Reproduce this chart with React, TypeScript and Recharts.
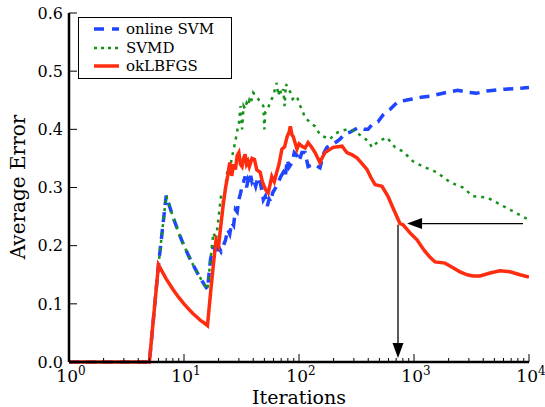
import React from "react";
import { LineChart, Line, XAxis, YAxis, ReferenceLine, Legend } from "recharts";

const FONT = "'DejaVu Serif', 'Liberation Serif', serif";

// online SVM (blue dashed)
const svmIters = [
  1, 5, 6, 7, 8, 9, 10, 11, 12, 13, 14, 15, 16, 17, 18, 19, 20, 21, 22, 23, 24, 25, 26, 27, 28, 29, 30,
  31, 32, 33, 34, 35, 36, 37, 38, 39, 40, 42, 44, 46, 48, 49, 51, 53, 55, 57, 59, 62, 66, 70, 73, 76,
  79, 82, 87, 91, 96, 100, 106, 113, 120, 135, 152, 165, 175, 200, 227, 250, 278, 326, 370, 398, 440,
  486, 540, 618, 726, 850, 961, 1150, 1378, 1977, 2400, 2891, 3500, 4315, 6185, 8870, 10000,
];
const svmErr = [
  0, 0, 0.167, 0.286, 0.25, 0.222, 0.2, 0.182, 0.167, 0.154, 0.143, 0.133, 0.125, 0.176, 0.2, 0.184,
  0.198, 0.19, 0.2, 0.21, 0.228, 0.22, 0.24, 0.235, 0.262, 0.258, 0.279, 0.29, 0.302, 0.31, 0.319, 0.3,
  0.312, 0.305, 0.32, 0.31, 0.315, 0.302, 0.318, 0.309, 0.29, 0.279, 0.285, 0.268, 0.28, 0.275, 0.291,
  0.298, 0.309, 0.32, 0.326, 0.318, 0.348, 0.335, 0.343, 0.36, 0.355, 0.345, 0.36, 0.36, 0.336, 0.34,
  0.334, 0.36, 0.369, 0.375, 0.383, 0.392, 0.395, 0.403, 0.4, 0.4, 0.41, 0.413, 0.425, 0.434, 0.448,
  0.45, 0.452, 0.455, 0.457, 0.464, 0.467, 0.464, 0.462, 0.466, 0.469, 0.471, 0.472,
];

// SVMD (green dotted)
const svmdIters = [
  1, 5, 6, 7, 8, 9, 10, 11, 12, 13, 14, 15, 16, 17, 18, 19, 20, 21, 22, 23, 24, 25, 26, 27, 28, 29, 30,
  31, 32, 33, 34, 35, 36, 37, 38, 40, 42, 43, 45, 47, 49, 50, 51, 53, 56, 58, 61, 64, 66, 68, 70, 73, 75,
  77, 80, 84, 88, 92, 96, 100, 106, 113, 125, 138, 152, 162, 186, 200, 218, 261, 307, 360, 400, 431, 486,
  582, 684, 802, 980, 1197, 1585, 2056, 2667, 3258, 4315, 5598, 7261, 9226, 10000,
];
const svmdErr = [
  0, 0, 0.167, 0.286, 0.25, 0.222, 0.2, 0.182, 0.167, 0.154, 0.143, 0.133, 0.125, 0.176, 0.222, 0.21,
  0.25, 0.286, 0.273, 0.304, 0.333, 0.33, 0.35, 0.365, 0.38, 0.397, 0.41, 0.44, 0.4, 0.44, 0.435, 0.445,
  0.44, 0.45, 0.445, 0.463, 0.458, 0.455, 0.45, 0.446, 0.44, 0.4, 0.43, 0.434, 0.445, 0.452, 0.465, 0.48,
  0.458, 0.47, 0.46, 0.469, 0.44, 0.478, 0.47, 0.464, 0.452, 0.455, 0.457, 0.445, 0.434, 0.42, 0.412,
  0.405, 0.391, 0.388, 0.383, 0.39, 0.395, 0.4, 0.397, 0.386, 0.38, 0.369, 0.379, 0.386, 0.369, 0.362,
  0.345, 0.336, 0.326, 0.309, 0.3, 0.285, 0.283, 0.271, 0.259, 0.248, 0.244,
];

// okLBFGS (red solid)
const lbfgsIters = [
  1, 5, 6, 7, 8, 9, 10, 11, 12, 13, 14, 15, 16, 17, 18, 19, 20, 21, 22, 23, 24, 25, 26, 27, 28, 29, 30,
  31, 32, 33, 34, 35, 36, 37, 39, 41, 43, 46, 48, 51, 54, 56, 58, 61, 64, 67, 71, 75, 79, 82, 84, 87, 89,
  93, 96, 100, 106, 113, 120, 128, 138, 152, 160, 168, 198, 237, 250, 261, 290, 319, 350, 390, 420, 458,
  527, 594, 640, 684, 755, 802, 870, 923, 1062, 1150, 1247, 1380, 1523, 1862, 2183, 2512, 2900, 3258,
  3750, 4581, 5598, 6839, 8353, 10000,
];
const lbfgsErr = [
  0, 0, 0.167, 0.143, 0.125, 0.111, 0.1, 0.091, 0.083, 0.077, 0.071, 0.067, 0.0625, 0.118, 0.167, 0.21,
  0.2, 0.238, 0.273, 0.3, 0.32, 0.343, 0.32, 0.34, 0.331, 0.355, 0.36, 0.34, 0.336, 0.35, 0.357, 0.34,
  0.345, 0.336, 0.35, 0.348, 0.33, 0.326, 0.31, 0.297, 0.291, 0.305, 0.319, 0.31, 0.326, 0.34, 0.366,
  0.37, 0.388, 0.395, 0.405, 0.39, 0.388, 0.375, 0.366, 0.375, 0.371, 0.368, 0.377, 0.37, 0.36, 0.343,
  0.352, 0.36, 0.369, 0.371, 0.365, 0.36, 0.356, 0.351, 0.342, 0.331, 0.318, 0.305, 0.302, 0.285, 0.27,
  0.257, 0.238, 0.236, 0.228, 0.222, 0.21, 0.2, 0.19, 0.18, 0.172, 0.17, 0.162, 0.155, 0.15, 0.148,
  0.148, 0.153, 0.157, 0.155, 0.15, 0.146,
];

const xTicks = [
  1, 2, 3, 4, 5, 6, 7, 8, 9, 10, 20, 30, 40, 50, 60, 70, 80, 90, 100, 200, 300, 400, 500, 600, 700, 800,
  900, 1000, 2000, 3000, 4000, 5000, 6000, 7000, 8000, 9000, 10000,
];
const yTicks = [0, 0.1, 0.2, 0.3, 0.4, 0.5, 0.6];

// annotation arrows: [from, to] in data units
const hArrow = [{ x: 8870, y: 0.238 }, { x: 870, y: 0.238 }];
const vArrow = [{ x: 726, y: 0.236 }, { x: 726, y: 0.007 }];

const BLUE = "#1f45ff";
const GREEN = "#14911a";
const RED = "#ff2d0f";

const zip = (xs: number[], ys: number[]) => xs.map((it, i) => ({ it, e: ys[i] }));

function exponentOf(v: number) {
  const p = Math.round(Math.log10(v));
  return Math.abs(Math.pow(10, p) - v) < 1e-6 ? p : null;
}

const BottomTick = (props: any) => {
  const { x, y, payload } = props;
  const p = exponentOf(payload.value);
  return (
    <g>
      <line x1={x} y1={y} x2={x} y2={y - (p !== null ? 8 : 4)} stroke="#000" strokeWidth={1} />
      {p !== null && (
        <text x={x + 2} y={y + 20} textAnchor="middle" fontFamily={FONT} fontSize={17} fill="#000">
          10
          <tspan dy={-7} fontSize={12}>{p}</tspan>
        </text>
      )}
    </g>
  );
};

const TopTick = (props: any) => {
  const { x, y, payload } = props;
  const p = exponentOf(payload.value);
  return <line x1={x} y1={y} x2={x} y2={y + (p !== null ? 8 : 4)} stroke="#000" strokeWidth={1} />;
};

const LeftTick = (props: any) => {
  const { x, y, payload } = props;
  return (
    <g>
      <line x1={x} y1={y} x2={x + 8} y2={y} stroke="#000" strokeWidth={1} />
      <text x={x - 6} y={y} dy="0.36em" textAnchor="end" fontFamily={FONT} fontSize={16} fill="#000">
        {payload.value.toFixed(1)}
      </text>
    </g>
  );
};

const RightTick = (props: any) => {
  const { x, y } = props;
  return <line x1={x} y1={y} x2={x - 8} y2={y} stroke="#444" strokeWidth={1} />;
};

const arrowShape = (props: any) => {
  const { x1, y1, x2, y2 } = props;
  const dx = x2 - x1;
  const dy = y2 - y1;
  const len = Math.sqrt(dx * dx + dy * dy) || 1;
  const ux = dx / len;
  const uy = dy / len;
  const hl = 15;
  const hw = 5.5;
  const bx = x2 - ux * hl;
  const by = y2 - uy * hl;
  return (
    <g>
      <line x1={x1} y1={y1} x2={bx} y2={by} stroke="#000" strokeWidth={1.3} />
      <polygon
        points={`${x2},${y2} ${bx - uy * hw},${by + ux * hw} ${bx + uy * hw},${by - ux * hw}`}
        fill="#000"
      />
    </g>
  );
};

const legendItems = [
  { label: "online SVM", color: BLUE, dash: "10 8", width: 3.5 },
  { label: "SVMD", color: GREEN, dash: "3 4", width: 2.5 },
  { label: "okLBFGS", color: RED, dash: undefined, width: 3.5 },
];

const LegendBox = () => (
  <div
    style={{
      position: "relative",
      width: 152,
      height: 60,
      border: "1px solid #000",
      background: "#fff",
      fontFamily: FONT,
      fontSize: 15,
      color: "#000",
    }}
  >
    {legendItems.map((d, i) => (
      <div key={d.label} style={{ position: "absolute", left: 0, top: 2 + i * 18.5, height: 18, width: 152 }}>
        <svg width={30} height={18} style={{ position: "absolute", left: 14, top: 0 }}>
          <line x1={1} y1={9} x2={26} y2={9} stroke={d.color} strokeWidth={d.width} strokeDasharray={d.dash} />
        </svg>
        <span style={{ position: "absolute", left: 47, top: 0, lineHeight: "18px", whiteSpace: "nowrap" }}>
          {d.label}
        </span>
      </div>
    ))}
  </div>
);

export default function App() {
  return (
    <div style={{ position: "absolute", left: 0, top: 0, background: "#fff" }}>
      <LineChart width={545} height={407} margin={{ top: 13, right: 16, bottom: 0, left: 0 }}>
        <XAxis
          xAxisId="b"
          dataKey="it"
          type="number"
          scale="log"
          domain={[1, 10000]}
          allowDataOverflow
          ticks={xTicks}
          interval={0}
          height={45}
          tickSize={0}
          tickMargin={0}
          tickLine={false}
          tick={<BottomTick />}
          axisLine={{ stroke: "#000", strokeWidth: 2.5 }}
        />
        <XAxis
          xAxisId="t"
          orientation="top"
          dataKey="it"
          type="number"
          scale="log"
          domain={[1, 10000]}
          allowDataOverflow
          ticks={xTicks}
          interval={0}
          height={0}
          tickSize={0}
          tickMargin={0}
          tickLine={false}
          tick={<TopTick />}
          axisLine={{ stroke: "#000", strokeWidth: 2.5 }}
        />
        <YAxis
          yAxisId="l"
          type="number"
          domain={[0, 0.6]}
          ticks={yTicks}
          interval={0}
          width={69}
          tickSize={0}
          tickMargin={0}
          tickLine={false}
          tick={<LeftTick />}
          axisLine={{ stroke: "#000", strokeWidth: 2.5 }}
        />
        <YAxis
          yAxisId="r"
          orientation="right"
          type="number"
          domain={[0, 0.6]}
          ticks={yTicks}
          interval={0}
          width={0}
          tickSize={0}
          tickMargin={0}
          tickLine={false}
          tick={<RightTick />}
          axisLine={{ stroke: "#000", strokeWidth: 2.5 }}
        />
        <Legend
          layout="vertical"
          align="center"
          verticalAlign="middle"
          wrapperStyle={{ left: 78, top: 17, width: 154, height: 62 }}
          content={() => <LegendBox />}
        />
        <Line
          xAxisId="b"
          yAxisId="l"
          data={zip(svmIters, svmErr)}
          dataKey="e"
          type="linear"
          stroke={BLUE}
          strokeWidth={3.5}
          strokeDasharray="10 7"
          dot={false}
          isAnimationActive={false}
        />
        <Line
          xAxisId="b"
          yAxisId="l"
          data={zip(svmdIters, svmdErr)}
          dataKey="e"
          type="linear"
          stroke={GREEN}
          strokeWidth={2.5}
          strokeDasharray="3 5"
          dot={false}
          isAnimationActive={false}
        />
        <Line
          xAxisId="b"
          yAxisId="l"
          data={zip(lbfgsIters, lbfgsErr)}
          dataKey="e"
          type="linear"
          stroke={RED}
          strokeWidth={3.5}
          dot={false}
          isAnimationActive={false}
        />
        <ReferenceLine xAxisId="b" yAxisId="l" segment={hArrow} shape={arrowShape} ifOverflow="visible" />
        <ReferenceLine xAxisId="b" yAxisId="l" segment={vArrow} shape={arrowShape} ifOverflow="visible" />
        <text x={299} y={404} textAnchor="middle" fontFamily={FONT} fontSize={19} fill="#000">
          Iterations
        </text>
        <text
          x={25}
          y={187}
          textAnchor="middle"
          fontFamily={FONT}
          fontSize={20}
          fill="#000"
          transform="rotate(-90 25 187)"
        >
          Average Error
        </text>
      </LineChart>
    </div>
  );
}
